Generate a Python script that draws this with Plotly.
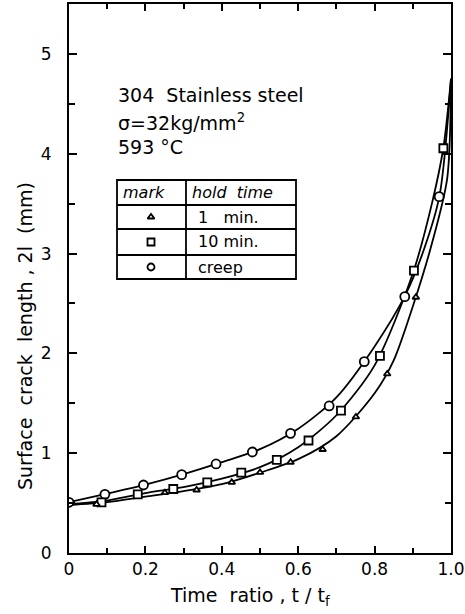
import plotly.graph_objects as go

# ---------------- data ----------------
creep_x = [0, 0.094, 0.195, 0.295, 0.385, 0.48, 0.58, 0.681, 0.773, 0.879, 0.969]
creep_y = [0.508, 0.588, 0.681, 0.785, 0.892, 1.012, 1.199, 1.473, 1.917, 2.568, 3.570]

min10_x = [0.085, 0.18, 0.273, 0.362, 0.451, 0.544, 0.627, 0.712, 0.814, 0.903, 0.98]
min10_y = [0.508, 0.588, 0.641, 0.708, 0.805, 0.932, 1.127, 1.426, 1.974, 2.829, 4.055]

min1_x = [0.072, 0.251, 0.334, 0.426, 0.5, 0.58, 0.664, 0.751, 0.833, 0.908]
min1_y = [0.488, 0.604, 0.631, 0.708, 0.807, 0.909, 1.037, 1.363, 1.794, 2.562]

# fitted curves as drawn in the figure
creep_fit_x = [0, 0.1, 0.2, 0.3, 0.4, 0.5, 0.6, 0.7, 0.8, 0.88, 0.93, 0.97, 1.0]
creep_fit_y = [0.51, 0.595, 0.685, 0.79, 0.91, 1.04, 1.245, 1.56, 2.07, 2.58, 3.05, 3.58, 4.75]
min10_fit_x = [0, 0.1, 0.2, 0.3, 0.4, 0.5, 0.6, 0.7, 0.8, 0.9, 0.95, 0.98, 1.0]
min10_fit_y = [0.49, 0.525, 0.6, 0.66, 0.745, 0.86, 1.06, 1.38, 1.88, 2.80, 3.5, 4.06, 4.75]
min1_fit_x = [0, 0.1, 0.2, 0.3, 0.4, 0.5, 0.6, 0.7, 0.8, 0.85, 0.9, 0.95, 0.99, 1.0]
min1_fit_y = [0.48, 0.51, 0.565, 0.62, 0.69, 0.805, 0.94, 1.17, 1.6, 1.93, 2.47, 3.1, 3.75, 4.75]

x_tickvals = [0, 0.2, 0.4, 0.6, 0.8, 1.0]
x_ticktext = ["0", "0.2", "0.4", "0.6", "0.8", "1.0"]
y_tickvals = [0, 1, 2, 3, 4, 5]
y_ticktext = ["0", "1", "2", "3", "4", "5"]

legend_marks = ["1   min.", "10 min.", "creep"]
note_lines = ["304  Stainless steel", "σ=32kg/mm<sup>2</sup>", "593 °C"]

# ---------------- layout geometry ----------------
W, H = 465, 614
L, R, T, B = 69, 451, 4, 553
XR = [0, 1.0]
YR = [0, 5.5]
FONT = "DejaVu Sans"

def pxx(p):
    return (p - L) / (R - L)

def pxy(p):
    return (B - p) / (B - T)

def dx(p):
    return XR[0] + pxx(p) * (XR[1] - XR[0])

def dy(p):
    return YR[0] + pxy(p) * (YR[1] - YR[0])

fig = go.Figure()
for fx, fy in [(creep_fit_x, creep_fit_y), (min10_fit_x, min10_fit_y), (min1_fit_x, min1_fit_y)]:
    fig.add_trace(go.Scatter(x=fx, y=fy, mode="lines", line=dict(color="black", width=1.8, shape="spline", smoothing=0.8),
                             showlegend=False, hoverinfo="skip"))

mk = dict(color="white", line=dict(color="black", width=1.8))
fig.add_trace(go.Scatter(x=creep_x, y=creep_y, mode="markers", name="creep",
                         marker=dict(symbol="circle", size=9, **mk), showlegend=False))
fig.add_trace(go.Scatter(x=min10_x, y=min10_y, mode="markers", name="10 min.",
                         marker=dict(symbol="square", size=8, **mk), showlegend=False))
fig.add_trace(go.Scatter(x=min1_x, y=min1_y, mode="markers", name="1 min.",
                         marker=dict(symbol="triangle-up", size=6, **mk), showlegend=False))

# legend table markers
tab_l, tab_r, tab_t, tab_b = 117, 296, 180, 279
col_x = 186
row_lines = [205, 229, 255]
row_centers = [217, 242, 267]
symbols = [("triangle-up", 6), ("square", 7), ("circle", 7)]
for (sym, sz), rc in zip(symbols, row_centers):
    fig.add_trace(go.Scatter(x=[dx(151)], y=[dy(rc)], mode="markers", showlegend=False, hoverinfo="skip",
                             marker=dict(symbol=sym, size=sz, color="white", line=dict(color="black", width=1.8))))

shapes = [dict(type="rect", xref="paper", yref="paper", x0=pxx(tab_l), x1=pxx(tab_r), y0=pxy(tab_b), y1=pxy(tab_t),
               line=dict(color="black", width=1.8)),
          dict(type="line", xref="paper", yref="paper", x0=pxx(col_x), x1=pxx(col_x), y0=pxy(tab_b), y1=pxy(tab_t),
               line=dict(color="black", width=1.8))]
for rl in row_lines:
    shapes.append(dict(type="line", xref="paper", yref="paper", x0=pxx(tab_l), x1=pxx(tab_r), y0=pxy(rl), y1=pxy(rl),
                       line=dict(color="black", width=1.8)))

ann = []
tf = dict(family=FONT, size=16, color="black")
ann.append(dict(text="<i>mark</i>", x=pxx(121), y=pxy(192), xanchor="left", yanchor="middle", font=tf))
ann.append(dict(text="<i>hold  time</i>", x=pxx(190), y=pxy(192), xanchor="left", yanchor="middle", font=tf))
for t, rc in zip(legend_marks, row_centers):
    ann.append(dict(text=t, x=pxx(196), y=pxy(rc), xanchor="left", yanchor="middle", font=tf))

note_y = [95, 122, 147]
for t, ny in zip(note_lines, note_y):
    ann.append(dict(text=t, x=pxx(116), y=pxy(ny), xanchor="left", yanchor="middle",
                    font=dict(family=FONT, size=19, color="black")))

ann.append(dict(text="Time  ratio , t / t<sub>f</sub>", x=pxx(250), y=pxy(596), xanchor="center", yanchor="middle",
                font=dict(family=FONT, size=19, color="black")))
ann.append(dict(text="Surface  crack  length , 2l  (mm)", x=pxx(25), y=pxy(336), xanchor="center", yanchor="middle",
                textangle=-90, font=dict(family=FONT, size=19, color="black")))
for a in ann:
    a.setdefault("xref", "paper")
    a.setdefault("yref", "paper")
    a.setdefault("showarrow", False)

axis_common = dict(showline=True, linecolor="black", linewidth=2, mirror="ticks", ticks="inside",
                   tickcolor="black", tickwidth=1.8, showgrid=False, zeroline=False, automargin=False,
                   tickfont=dict(family=FONT, size=17, color="black"))

fig.update_layout(
    width=W, height=H, margin=dict(l=L, r=W - R, t=T, b=H - B, autoexpand=False),
    paper_bgcolor="white", plot_bgcolor="white",
    xaxis=dict(range=XR, tickvals=x_tickvals, ticktext=x_ticktext, ticklen=7,
               minor=dict(dtick=0.1, ticks="inside", ticklen=5, tickcolor="black", tickwidth=1.8),
               **axis_common),
    yaxis=dict(range=YR, tickvals=y_tickvals, ticktext=y_ticktext, ticklen=8, ticklabelstandoff=12,
               minor=dict(dtick=0.5, ticks="inside", ticklen=6, tickcolor="black", tickwidth=1.8),
               **axis_common),
    shapes=shapes, annotations=ann,
)

fig.write_html("out.html", config={"displayModeBar": False},
               post_script="document.body.style.margin='0';document.body.style.overflow='hidden';")
